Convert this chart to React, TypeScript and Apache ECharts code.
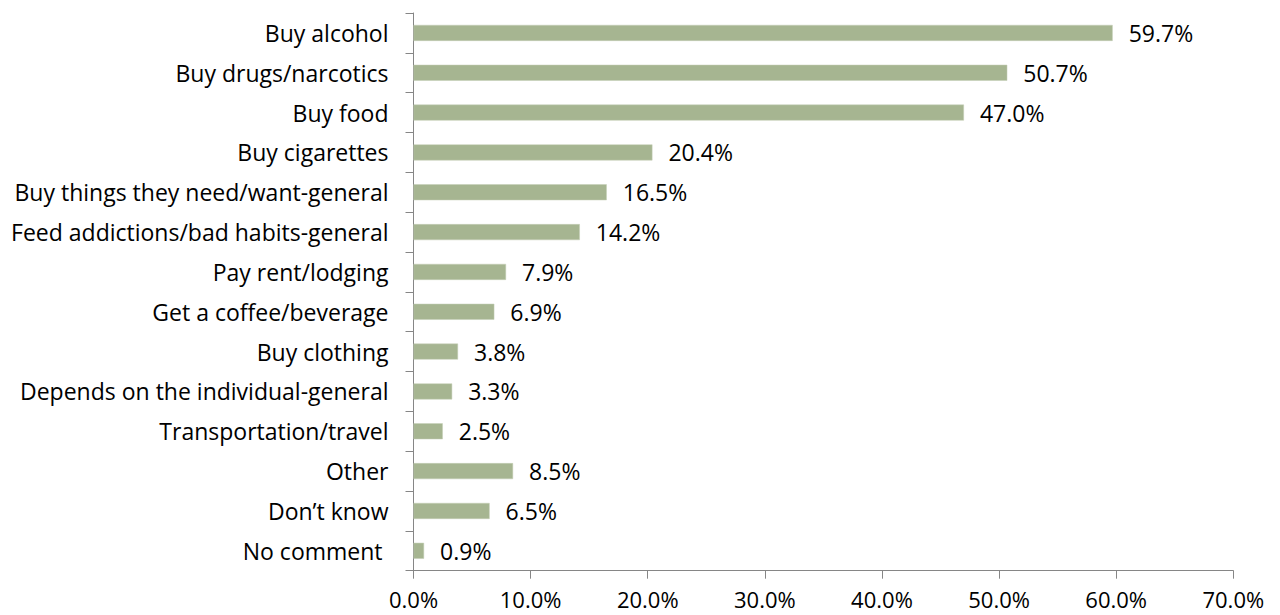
import React, { useEffect, useRef } from "react";
import * as echarts from "echarts";

const categories = [
  "Buy alcohol",
  "Buy drugs/narcotics",
  "Buy food",
  "Buy cigarettes",
  "Buy things they need/want-general",
  "Feed addictions/bad habits-general",
  "Pay rent/lodging",
  "Get a coffee/beverage",
  "Buy clothing",
  "Depends on the individual-general",
  "Transportation/travel",
  "Other",
  "Don\u2019t know",
  "No comment ",
];
const values = [59.7, 50.7, 47.0, 20.4, 16.5, 14.2, 7.9, 6.9, 3.8, 3.3, 2.5, 8.5, 6.5, 0.9];
const xMin = 0;
const xMax = 70;
const xInterval = 10;

const FONT = "'Open Sans', 'Noto Sans', sans-serif";
const FS = 23;

export default function App() {
  const ref = useRef<HTMLDivElement>(null);
  useEffect(() => {
    if (!ref.current) return;
    const chart = echarts.init(ref.current, null, { renderer: "svg" });
    chart.setOption({
      animation: false,
      grid: { left: 413.5, right: 46.7, top: 13, bottom: 44.3, containLabel: false },
      xAxis: {
        type: "value",
        min: xMin,
        max: xMax,
        interval: xInterval,
        splitLine: { show: false },
        axisLine: { show: true, lineStyle: { color: "#868686", width: 1 } },
        axisTick: { show: true, length: 8, lineStyle: { color: "#868686" } },
        axisLabel: {
          color: "#000",
          fontFamily: FONT,
          fontSize: 22,
          lineHeight: 22,
          margin: 17,
          formatter: (v: number) => v.toFixed(1) + "%",
        },
      },
      yAxis: {
        type: "category",
        data: categories,
        inverse: true,
        axisLine: { show: true, lineStyle: { color: "#868686", width: 1 } },
        axisTick: { show: true, length: 8, alignWithLabel: false, lineStyle: { color: "#868686" } },
        axisLabel: {
          color: "#000",
          fontFamily: FONT,
          fontSize: FS,
          margin: 25,
        },
      },
      series: [
        {
          type: "bar",
          data: values,
          barWidth: 16,
          itemStyle: { color: "#a6b591", borderColor: "#c4cfb7", borderWidth: 0.5 },
          label: {
            show: true,
            position: "right",
            distance: 16,
            color: "#000",
            fontFamily: FONT,
            fontSize: FS,
            formatter: (p: any) => Number(p.value).toFixed(1) + "%",
          },
        },
      ],
    });
    return () => chart.dispose();
  }, []);
  return <div ref={ref} style={{ width: 1280, height: 615, position: "absolute", left: 0, top: 0 }} />;
}
